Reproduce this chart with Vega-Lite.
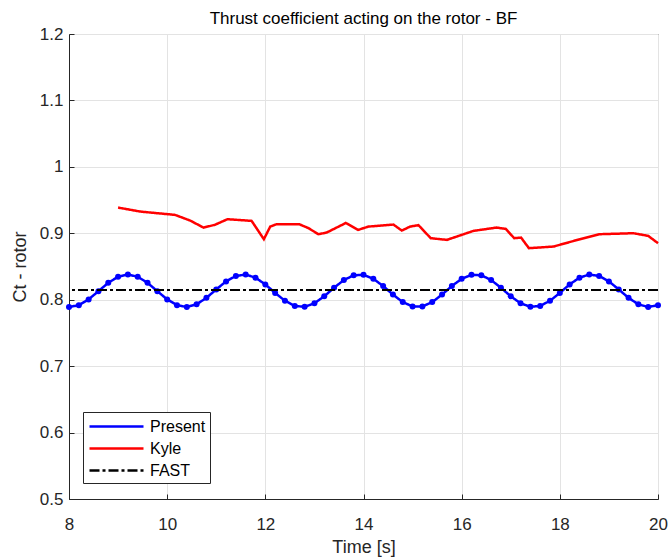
{
  "$schema": "https://vega.github.io/schema/vega-lite/v6.json",
  "width": 589,
  "height": 465,
  "autosize": {"type": "none"},
  "padding": {"left": 69, "top": 34, "right": 12, "bottom": 58},
  "background": "white",
  "title": {"text": "Thrust coefficient acting on the rotor - BF", "fontSize": 17, "fontWeight": "normal", "font": "Liberation Sans", "color": "#000000", "offset": -3, "anchor": "middle"},
  "config": {
    "font": "Liberation Sans",
    "view": {"stroke": "#262626", "strokeWidth": 1},
    "axis": {
      "labelFont": "Liberation Sans", "labelFontSize": 17, "labelColor": "#262626",
      "titleFont": "Liberation Sans", "titleFontSize": 18, "titleFontWeight": "normal", "titleColor": "#262626",
      "domainColor": "#262626", "domainWidth": 1, "tickColor": "#262626", "tickSize": -5,
      "gridColor": "#e3e3e3", "gridWidth": 1, "labelFlush": false, "labelOverlap": false
    },
    "legend": {
      "orient": "none", "legendX": 14, "legendY": 378, "title": null,
      "symbolType": "M-3,0H3", "symbolSize": 324, "symbolStrokeWidth": 2.5, "symbolOffset": 19,
      "labelFont": "Liberation Sans", "labelFontSize": 16, "labelColor": "#000000",
      "strokeColor": "#262626", "fillColor": "white", "padding": 4, "rowPadding": 3, "labelOffset": 23
    }
  },
  "datasets": {
    "present": [
      {"t": 8.0, "ct": 0.789, "series": "Present"}, {"t": 8.2, "ct": 0.7918, "series": "Present"}, {"t": 8.4, "ct": 0.8005, "series": "Present"},
      {"t": 8.6, "ct": 0.8129, "series": "Present"}, {"t": 8.8, "ct": 0.8254, "series": "Present"}, {"t": 9.0, "ct": 0.8346, "series": "Present"},
      {"t": 9.2, "ct": 0.838, "series": "Present"}, {"t": 9.4, "ct": 0.8346, "series": "Present"}, {"t": 9.6, "ct": 0.8254, "series": "Present"},
      {"t": 9.8, "ct": 0.8128, "series": "Present"}, {"t": 10.0, "ct": 0.8005, "series": "Present"}, {"t": 10.2, "ct": 0.7918, "series": "Present"},
      {"t": 10.4, "ct": 0.789, "series": "Present"}, {"t": 10.6, "ct": 0.7931, "series": "Present"}, {"t": 10.8, "ct": 0.8028, "series": "Present"},
      {"t": 11.0, "ct": 0.8155, "series": "Present"}, {"t": 11.2, "ct": 0.8276, "series": "Present"}, {"t": 11.4, "ct": 0.8358, "series": "Present"},
      {"t": 11.6, "ct": 0.8379, "series": "Present"}, {"t": 11.8, "ct": 0.8332, "series": "Present"}, {"t": 12.0, "ct": 0.823, "series": "Present"},
      {"t": 12.2, "ct": 0.8102, "series": "Present"}, {"t": 12.4, "ct": 0.7984, "series": "Present"}, {"t": 12.6, "ct": 0.7907, "series": "Present"},
      {"t": 12.8, "ct": 0.7893, "series": "Present"}, {"t": 13.0, "ct": 0.7946, "series": "Present"}, {"t": 13.2, "ct": 0.8052, "series": "Present"},
      {"t": 13.4, "ct": 0.818, "series": "Present"}, {"t": 13.6, "ct": 0.8296, "series": "Present"}, {"t": 13.8, "ct": 0.8368, "series": "Present"},
      {"t": 14.0, "ct": 0.8374, "series": "Present"}, {"t": 14.2, "ct": 0.8315, "series": "Present"}, {"t": 14.4, "ct": 0.8206, "series": "Present"},
      {"t": 14.6, "ct": 0.8077, "series": "Present"}, {"t": 14.8, "ct": 0.7964, "series": "Present"}, {"t": 15.0, "ct": 0.7899, "series": "Present"},
      {"t": 15.2, "ct": 0.7899, "series": "Present"}, {"t": 15.4, "ct": 0.7964, "series": "Present"}, {"t": 15.6, "ct": 0.8077, "series": "Present"},
      {"t": 15.8, "ct": 0.8206, "series": "Present"}, {"t": 16.0, "ct": 0.8315, "series": "Present"}, {"t": 16.2, "ct": 0.8374, "series": "Present"},
      {"t": 16.4, "ct": 0.8368, "series": "Present"}, {"t": 16.6, "ct": 0.8296, "series": "Present"}, {"t": 16.8, "ct": 0.818, "series": "Present"},
      {"t": 17.0, "ct": 0.8052, "series": "Present"}, {"t": 17.2, "ct": 0.7946, "series": "Present"}, {"t": 17.4, "ct": 0.7893, "series": "Present"},
      {"t": 17.6, "ct": 0.7907, "series": "Present"}, {"t": 17.8, "ct": 0.7984, "series": "Present"}, {"t": 18.0, "ct": 0.8102, "series": "Present"},
      {"t": 18.2, "ct": 0.823, "series": "Present"}, {"t": 18.4, "ct": 0.8332, "series": "Present"}, {"t": 18.6, "ct": 0.8379, "series": "Present"},
      {"t": 18.8, "ct": 0.8358, "series": "Present"}, {"t": 19.0, "ct": 0.8276, "series": "Present"}, {"t": 19.2, "ct": 0.8155, "series": "Present"},
      {"t": 19.4, "ct": 0.8028, "series": "Present"}, {"t": 19.6, "ct": 0.7931, "series": "Present"}, {"t": 19.8, "ct": 0.789, "series": "Present"},
      {"t": 20.0, "ct": 0.7918, "series": "Present"}
    ],
    "kyle": [
      {"t": 9.0, "ct": 0.9387, "series": "Kyle"}, {"t": 9.45, "ct": 0.9327, "series": "Kyle"}, {"t": 10.16, "ct": 0.9277, "series": "Kyle"},
      {"t": 10.47, "ct": 0.9191, "series": "Kyle"}, {"t": 10.74, "ct": 0.9086, "series": "Kyle"}, {"t": 10.97, "ct": 0.9127, "series": "Kyle"},
      {"t": 11.23, "ct": 0.9212, "series": "Kyle"}, {"t": 11.72, "ct": 0.9187, "series": "Kyle"}, {"t": 11.97, "ct": 0.8911, "series": "Kyle"},
      {"t": 12.1, "ct": 0.9101, "series": "Kyle"}, {"t": 12.23, "ct": 0.9137, "series": "Kyle"}, {"t": 12.69, "ct": 0.9137, "series": "Kyle"},
      {"t": 12.88, "ct": 0.9077, "series": "Kyle"}, {"t": 13.08, "ct": 0.8986, "series": "Kyle"}, {"t": 13.25, "ct": 0.9011, "series": "Kyle"},
      {"t": 13.64, "ct": 0.9155, "series": "Kyle"}, {"t": 13.89, "ct": 0.9051, "series": "Kyle"}, {"t": 14.1, "ct": 0.9101, "series": "Kyle"},
      {"t": 14.61, "ct": 0.9131, "series": "Kyle"}, {"t": 14.78, "ct": 0.9041, "series": "Kyle"}, {"t": 14.95, "ct": 0.9101, "series": "Kyle"},
      {"t": 15.12, "ct": 0.9122, "series": "Kyle"}, {"t": 15.37, "ct": 0.8926, "series": "Kyle"}, {"t": 15.7, "ct": 0.8901, "series": "Kyle"},
      {"t": 16.24, "ct": 0.9036, "series": "Kyle"}, {"t": 16.71, "ct": 0.9086, "series": "Kyle"}, {"t": 16.9, "ct": 0.9066, "series": "Kyle"},
      {"t": 17.07, "ct": 0.8926, "series": "Kyle"}, {"t": 17.21, "ct": 0.8935, "series": "Kyle"}, {"t": 17.37, "ct": 0.8776, "series": "Kyle"},
      {"t": 17.87, "ct": 0.88, "series": "Kyle"}, {"t": 18.41, "ct": 0.8911, "series": "Kyle"}, {"t": 18.8, "ct": 0.8986, "series": "Kyle"},
      {"t": 19.5, "ct": 0.9001, "series": "Kyle"}, {"t": 19.8, "ct": 0.8961, "series": "Kyle"}, {"t": 20.0, "ct": 0.8851, "series": "Kyle"}
    ],
    "fast": [
      {"ct": 0.8148, "series": "FAST"}
    ]
  },
  "layer": [
    {
      "data": {"name": "present"},
      "mark": {"type": "line", "strokeWidth": 2.5, "point": {"filled": true, "size": 36, "color": "#0000ff"}},
      "encoding": {
        "x": {"field": "t", "type": "quantitative", "scale": {"domain": [8, 20], "nice": false, "zero": false},
              "axis": {"orient": "bottom", "title": "Time [s]", "values": [8, 10, 12, 14, 16, 18, 20], "grid": true, "labelPadding": 22, "titlePadding": 6}},
        "y": {"field": "ct", "type": "quantitative", "scale": {"domain": [0.5, 1.2], "nice": false, "zero": false},
              "axis": {"orient": "left", "title": "Ct - rotor", "values": [0.5, 0.6, 0.7, 0.8, 0.9, 1.0, 1.1, 1.2], "format": "~g", "grid": true, "labelPadding": 11, "titlePadding": 10}},
        "color": {"field": "series", "type": "nominal", "scale": {"domain": ["Present", "Kyle", "FAST"], "range": ["#0000ff", "#ff0000", "#000000"]}},
        "strokeDash": {"field": "series", "type": "nominal", "scale": {"domain": ["Present", "Kyle", "FAST"], "range": [[1, 0], [1, 0], [10, 3, 3, 3]]}}
      }
    },
    {
      "data": {"name": "kyle"},
      "mark": {"type": "line", "strokeWidth": 2.5},
      "encoding": {
        "x": {"field": "t", "type": "quantitative"},
        "y": {"field": "ct", "type": "quantitative"},
        "color": {"field": "series", "type": "nominal"},
        "strokeDash": {"field": "series", "type": "nominal"}
      }
    },
    {
      "data": {"name": "fast"},
      "mark": {"type": "rule", "strokeWidth": 2},
      "encoding": {
        "y": {"field": "ct", "type": "quantitative"},
        "color": {"field": "series", "type": "nominal"},
        "strokeDash": {"field": "series", "type": "nominal"}
      }
    }
  ]
}
